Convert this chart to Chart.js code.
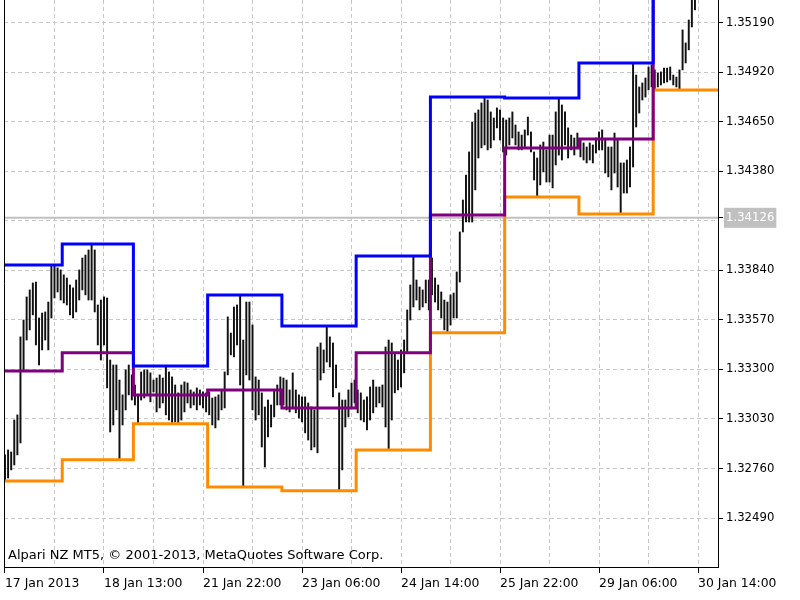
<!DOCTYPE html>
<html>
<head>
<meta charset="utf-8">
<title>EURUSD H1 - daily price channel</title>
<script src="https://cdn.jsdelivr.net/npm/chart.js@4.4.0/dist/chart.umd.min.js"></script>
<style>
  html, body { margin: 0; padding: 0; background: #fff; }
</style>
</head>
<body>
<canvas id="chart" width="800" height="600"></canvas>
<script>
// H1 bars from 17 Jan 2013 05:00 (index = bar number)
const barHigh = [
  // 17 Jan
  1.32834, 1.32861, 1.32850, 1.33024, 1.33052, 1.33477, 1.33569, 1.33695, 1.33733, 1.33771,
  1.33776, 1.33580, 1.33607, 1.33613, 1.33667, 1.33869, 1.33869, 1.33853, 1.33842,
  // 18 Jan
  1.33815, 1.33798, 1.33760, 1.33744, 1.33787, 1.33842, 1.33907, 1.33923, 1.33951, 1.33983,
  1.33951, 1.33651, 1.33678, 1.33695, 1.33689, 1.33351, 1.33324, 1.33324, 1.33242, 1.33161,
  1.33297, 1.33324, 1.33270,
  // 21 Jan
  1.33215, 1.33161, 1.33286, 1.33297, 1.33297, 1.33281, 1.33242, 1.33253, 1.33270, 1.33253,
  1.33319, 1.33286, 1.33259, 1.33215, 1.33172, 1.33215, 1.33232, 1.33226, 1.33188, 1.33177,
  1.33199, 1.33188, 1.33177, 1.33172,
  // 22 Jan
  1.33177, 1.33144, 1.33150, 1.33161, 1.33188, 1.33286, 1.33586, 1.33498, 1.33640, 1.33651,
  1.33706, 1.33460, 1.33667, 1.33667, 1.33542, 1.33259, 1.33242, 1.33172, 1.33095, 1.33133,
  1.33106, 1.33188, 1.33215, 1.33259,
  // 23 Jan
  1.33253, 1.33242, 1.33188, 1.33281, 1.33188, 1.33161, 1.33150, 1.33150, 1.33117, 1.33095,
  1.33079, 1.33422, 1.33444, 1.33406, 1.33537, 1.33477, 1.33444, 1.33324, 1.33172, 1.33133,
  1.33133, 1.33188, 1.33226, 1.33242,
  // 24 Jan
  1.33188, 1.33172, 1.33133, 1.33150, 1.33204, 1.33242, 1.33204, 1.33204, 1.33215, 1.33422,
  1.33460, 1.33444, 1.33389, 1.33351, 1.33406, 1.33460, 1.33624, 1.33760, 1.33918, 1.33787,
  1.33749, 1.33733, 1.33787, 1.33787,
  // 25 Jan
  1.33907, 1.33798, 1.33760, 1.33722, 1.33678, 1.33667, 1.33706, 1.33716, 1.33831, 1.34049,
  1.34223, 1.34359, 1.34485, 1.34648, 1.34697, 1.34714, 1.34752, 1.34784, 1.34768, 1.34703,
  1.34670, 1.34725, 1.34714, 1.34670,
  // 28 Jan
  1.34659, 1.34670, 1.34703, 1.34632, 1.34594, 1.34577, 1.34605, 1.34675, 1.34594, 1.34485,
  1.34452, 1.34523, 1.34539, 1.34496, 1.34577, 1.34577, 1.34703, 1.34779, 1.34741, 1.34703,
  1.34616, 1.34577, 1.34561, 1.34588,
  // 29 Jan
  1.34550, 1.34534, 1.34512, 1.34534, 1.34523, 1.34561, 1.34594, 1.34605, 1.34550, 1.34512,
  1.34512, 1.34588, 1.34550, 1.34425, 1.34425, 1.34441, 1.34512, 1.34970, 1.34904, 1.34839,
  1.34861, 1.34888, 1.34948, 1.34959,
  // 30 Jan
  1.34932, 1.34915, 1.34921, 1.34942, 1.34942, 1.34948, 1.34904, 1.34893, 1.34932, 1.35150,
  1.35079, 1.35204, 1.35340, 1.35422
];
const barLow = [
  1.32692, 1.32708, 1.32752, 1.32779, 1.32834, 1.32899, 1.33297, 1.33460, 1.33515, 1.33597,
  1.33433, 1.33324, 1.33406, 1.33460, 1.33406, 1.33580, 1.33689, 1.33722, 1.33678,
  1.33662, 1.33651, 1.33597, 1.33580, 1.33613, 1.33678, 1.33733, 1.33706, 1.33678, 1.33678,
  1.33613, 1.33433, 1.33351, 1.33433, 1.33199, 1.32959, 1.32997, 1.33079, 1.32806, 1.32997,
  1.33079, 1.33161, 1.33133,
  1.33106, 1.33008, 1.33133, 1.33144, 1.33161, 1.33123, 1.33177, 1.33068, 1.33090, 1.33117,
  1.33052, 1.33024, 1.33003, 1.33014, 1.33008, 1.33024, 1.33068, 1.33117, 1.33090, 1.33106,
  1.33079, 1.33106, 1.33090, 1.33068,
  1.33052, 1.32997, 1.32981, 1.33024, 1.33079, 1.33090, 1.33270, 1.33379, 1.33368, 1.33433,
  1.33215, 1.32659, 1.33270, 1.33242, 1.33079, 1.33024, 1.33052, 1.32877, 1.32768, 1.32932,
  1.32986, 1.33041, 1.33106, 1.33106,
  1.33106, 1.33079, 1.33068, 1.33095, 1.33063, 1.33035, 1.33014, 1.32954, 1.32915, 1.32861,
  1.32877, 1.32845, 1.33242, 1.33281, 1.33340, 1.33313, 1.33150, 1.33199, 1.32638, 1.32752,
  1.32986, 1.33041, 1.33095, 1.33117,
  1.33063, 1.33024, 1.33014, 1.32970, 1.33024, 1.33063, 1.33095, 1.33117, 1.33095, 1.32986,
  1.32861, 1.33024, 1.33172, 1.33188, 1.33204, 1.33281, 1.33389, 1.33569, 1.33640, 1.33678,
  1.33624, 1.33640, 1.33662, 1.33624,
  1.33706, 1.33667, 1.33624, 1.33580, 1.33515, 1.33498, 1.33542, 1.33580, 1.33580, 1.33776,
  1.34049, 1.34103, 1.34103, 1.34103, 1.34278, 1.34452, 1.34507, 1.34523, 1.34496, 1.34507,
  1.34550, 1.34616, 1.34550, 1.34485,
  1.34468, 1.34523, 1.34561, 1.34523, 1.34496, 1.34496, 1.34507, 1.34577, 1.34485, 1.34332,
  1.34240, 1.34305, 1.34376, 1.34321, 1.34321, 1.34289, 1.34414, 1.34468, 1.34441, 1.34523,
  1.34452, 1.34496, 1.34468, 1.34512,
  1.34458, 1.34441, 1.34425, 1.34441, 1.34425, 1.34479, 1.34496, 1.34496, 1.34370, 1.34349,
  1.34278, 1.34370, 1.34294, 1.34147, 1.34261, 1.34261, 1.34294, 1.34403, 1.34621, 1.34697,
  1.34768, 1.34784, 1.34823, 1.34839,
  1.34823, 1.34839, 1.34850, 1.34861, 1.34866, 1.34877, 1.34850, 1.34839, 1.34823, 1.34932,
  1.34970, 1.35041, 1.35166, 1.35259
];

// first bar of each day and that day's channel levels
const dayStart = [0, 19, 42, 66, 90, 114, 138, 162, 186, 210];
const channelUpper  = [1.33869, 1.33983, 1.33319, 1.33706, 1.33537, 1.33918, 1.34784, 1.34779, 1.34970, 1.35900];
const channelMiddle = [1.33291, 1.33390, 1.33161, 1.33188, 1.33090, 1.33390, 1.34141, 1.34507, 1.34556, 1.35360];
const channelLower  = [1.32692, 1.32807, 1.33003, 1.32659, 1.32638, 1.32861, 1.33499, 1.34240, 1.34147, 1.34823];

const currentPrice = 1.34126;
const hiddenTick = 1.34110; // label covered by the price tag

const priceTicks = [1.32490, 1.32760, 1.33030, 1.33300, 1.33570, 1.33840, 1.34110, 1.34126,
                    1.34380, 1.34650, 1.34920, 1.35190];
const gridBars = [0, 16, 32, 48, 64, 80, 96, 112, 128, 144, 160, 176, 192, 208, 224];
const timeLabels = ['17 Jan 2013', '18 Jan 13:00', '21 Jan 22:00', '23 Jan 06:00',
                    '24 Jan 14:00', '25 Jan 22:00', '29 Jan 06:00', '30 Jan 14:00'];

const X_MIN = -0.32, X_MAX = 230.45;
const Y_MIN = 1.32223, Y_MAX = 1.35313;

Chart.defaults.font.family = '"DejaVu Sans", Verdana, sans-serif';
Chart.defaults.font.size = 11.7;
Chart.defaults.color = '#000';

// one point per day, held until the next day (stepped)
function stepLine(levels) {
    const pts = dayStart.map((s, d) => ({ x: s - 0.5, y: levels[d] }));
    pts.push({ x: X_MAX, y: levels[levels.length - 1] });
    return pts;
}

const lineStyle = { type: 'line', stepped: true, borderWidth: 3, pointRadius: 0,
                    borderJoinStyle: 'miter', order: 1 };

// left frame + copyright text
const frame = {
    id: 'frame',
    afterDraw(chart) {
        const { ctx, chartArea: a } = chart;
        ctx.save();
        ctx.strokeStyle = '#000';
        ctx.lineWidth = 1;
        ctx.beginPath();
        ctx.moveTo(a.left + 0.5, a.top);
        ctx.lineTo(a.left + 0.5, a.bottom);
        ctx.stroke();
        ctx.fillStyle = '#000';
        ctx.font = '13px "DejaVu Sans"';
        ctx.textBaseline = 'middle';
        ctx.fillText('Alpari NZ MT5, \u00a9 2001-2013, MetaQuotes Software Corp.', a.left + 4, a.bottom - 11);
        ctx.restore();
    }
};

new Chart(document.getElementById('chart'), {
    type: 'bar',
    data: {
        datasets: [
            Object.assign({ data: stepLine(channelUpper), borderColor: '#0000ff' }, lineStyle),
            Object.assign({ data: stepLine(channelMiddle), borderColor: '#800080' }, lineStyle),
            Object.assign({ data: stepLine(channelLower), borderColor: '#ff8c00' }, lineStyle),
            {
                type: 'line',
                data: [{ x: X_MIN, y: currentPrice }, { x: X_MAX, y: currentPrice }],
                borderColor: '#c0c0c0', borderWidth: 2, pointRadius: 0, order: 3
            },
            {
                type: 'bar',
                data: barHigh.map((h, i) => ({ x: i, y: [barLow[i], h] })),
                backgroundColor: '#111', borderWidth: 0, barThickness: 1.3, order: 2
            }
        ]
    },
    options: {
        responsive: false,
        animation: false,
        layout: { padding: { left: 4, top: 0, right: 0, bottom: 0 } },
        plugins: { legend: { display: false }, tooltip: { enabled: false } },
        scales: {
            x: {
                type: 'linear', min: X_MIN, max: X_MAX, offset: false,
                afterBuildTicks: s => { s.ticks = gridBars.map(v => ({ value: v })); },
                afterFit: s => { s.height = 33; s.paddingLeft = 0; s.paddingRight = 0; },
                grid: {
                    offset: false, color: '#c8c8c8', lineWidth: 1, tickLength: 6,
                    tickColor: c => (c.tick && c.tick.value % 32 === 0) ? '#000' : 'transparent'
                },
                border: { color: '#000', width: 1, dash: [4, 3] },
                ticks: {
                    autoSkip: false, maxRotation: 0, align: 'start', padding: 3,
                    font: { size: 12.4 },
                    callback: v => v % 32 === 0 ? timeLabels[v / 32] : ''
                }
            },
            y: {
                position: 'right', min: Y_MIN, max: Y_MAX,
                afterBuildTicks: s => { s.ticks = priceTicks.map(v => ({ value: v })); },
                afterFit: s => { s.width = 82; s.paddingTop = 0; s.paddingBottom = 0; },
                grid: {
                    lineWidth: 1, tickLength: 5,
                    color: c => (c.tick && c.tick.value === currentPrice) ? 'transparent' : '#c8c8c8',
                    tickColor: c => (c.tick && c.tick.value === hiddenTick) ? 'transparent' : '#000'
                },
                border: { color: '#000', width: 1, dash: [4, 3] },
                ticks: {
                    autoSkip: false, padding: 3,
                    callback: v => v === hiddenTick ? '' : v.toFixed(5),
                    color: c => (c.tick && c.tick.value === currentPrice) ? '#ffffff' : '#000',
                    showLabelBackdrop: c => !!(c.tick && c.tick.value === currentPrice),
                    backdropColor: '#c0c0c0',
                    backdropPadding: { top: 3, bottom: 3, left: 2, right: 2 }
                }
            }
        }
    },
    plugins: [frame]
});
</script>
</body>
</html>
